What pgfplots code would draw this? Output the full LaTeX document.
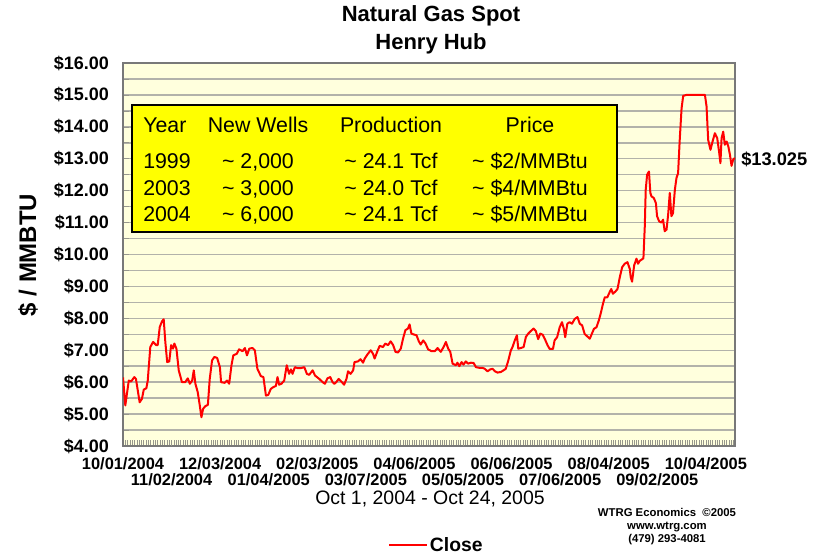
\documentclass[border=0pt]{standalone}
\usepackage{pgfplots}
\pgfplotsset{compat=1.18}
\usepackage{fontspec}
\setmainfont{Liberation Sans}
\definecolor{plotbg}{RGB}{255,255,221}
\definecolor{gridc}{RGB}{178,178,170}
\definecolor{boxy}{RGB}{255,255,0}
\definecolor{framec}{RGB}{120,120,120}
\definecolor{tickc}{RGB}{150,150,140}

\pgfplotstableread{
x y
0.0 6.15
1.0 5.27
2.5 6.05
3.5 6.02
4.9 6.16
5.6 6.10
7.2 5.37
8.2 5.48
9.0 5.77
10.1 5.81
10.7 6.05
11.8 7.10
13.0 7.26
14.4 7.16
15.0 7.16
15.9 7.73
16.9 7.91
17.6 7.97
18.3 7.26
19.1 6.63
20.0 6.65
20.8 7.16
21.6 7.05
22.2 7.21
23.1 7.05
24.1 6.37
25.5 6.00
26.9 6.00
28.0 6.12
28.9 5.95
29.9 6.05
30.6 6.37
31.3 5.95
32.3 5.69
33.2 5.27
33.9 4.90
34.6 5.16
35.6 5.25
36.7 5.29
37.5 6.10
38.5 6.68
39.5 6.79
40.7 6.76
41.9 6.47
42.4 6.00
43.9 5.98
45.0 6.05
45.9 5.95
46.9 6.53
47.7 6.84
49.2 6.89
50.2 7.03
51.7 6.97
52.7 7.07
53.6 6.84
54.6 7.05
56.0 7.07
57.0 7.00
58.1 6.42
59.6 6.19
60.7 6.16
61.8 5.58
62.8 5.60
63.9 5.79
65.1 5.85
66.1 5.88
66.8 6.16
67.5 5.92
68.5 5.95
69.7 6.05
70.8 6.53
71.8 6.26
72.6 6.40
73.3 6.26
74.3 6.47
75.5 6.44
76.9 6.44
78.4 6.47
79.5 6.26
80.5 6.23
82.0 6.37
83.0 6.21
84.9 6.10
86.3 6.00
87.3 5.95
88.4 6.12
89.6 6.16
90.6 6.00
91.4 5.95
92.2 6.00
93.2 6.10
94.4 6.02
95.6 5.92
96.6 6.10
97.3 6.34
98.4 6.26
99.5 6.37
100.1 6.63
101.6 6.65
102.7 6.72
103.8 6.61
104.5 6.74
105.6 6.86
107.1 7.00
108.1 6.89
108.8 6.74
110.0 6.97
111.0 7.14
112.4 7.10
113.4 7.21
114.6 7.16
115.7 7.28
116.8 7.16
117.8 6.95
118.9 6.93
120.1 7.05
121.1 7.37
122.1 7.63
123.2 7.68
123.9 7.81
124.7 7.52
125.9 7.49
126.9 7.47
127.9 7.28
128.7 7.18
129.8 7.31
130.8 7.21
131.9 7.03
133.4 6.97
134.8 6.97
136.0 7.07
137.4 6.95
138.6 7.10
139.6 7.26
140.6 7.05
141.5 6.95
142.5 6.58
143.9 6.53
144.6 6.61
145.4 6.50
146.4 6.63
147.2 6.55
148.2 6.65
149.2 6.58
150.4 6.61
151.6 6.60
152.6 6.47
154.0 6.45
155.4 6.45
156.4 6.42
157.6 6.34
158.8 6.40
159.8 6.42
160.8 6.34
161.9 6.30
163.4 6.32
164.5 6.37
165.5 6.42
166.6 6.68
167.7 7.00
168.4 7.10
169.4 7.31
170.3 7.47
170.9 7.05
172.0 7.07
173.2 7.10
174.2 7.42
175.2 7.52
176.3 7.60
177.5 7.68
178.5 7.60
179.5 7.35
180.4 7.52
181.4 7.49
182.4 7.35
183.6 7.15
184.5 7.04
185.9 7.04
186.6 7.31
187.7 7.41
188.8 7.72
189.8 7.88
190.6 7.67
191.2 7.41
192.1 7.83
193.1 7.88
194.1 7.83
195.3 7.98
196.5 8.04
197.5 7.83
198.5 7.78
199.6 7.51
201.1 7.41
201.8 7.36
202.5 7.48
203.6 7.67
204.7 7.72
205.7 7.93
206.5 8.14
207.5 8.45
208.3 8.66
209.4 8.66
210.4 8.82
211.1 8.92
211.8 8.77
212.9 8.84
213.8 8.92
214.8 9.29
215.8 9.60
216.9 9.71
218.1 9.76
219.1 9.55
219.5 9.29
220.1 9.15
221.0 9.66
222.0 9.87
222.7 9.71
223.4 9.80
225.0 9.88
225.6 10.89
226.0 12.03
226.6 12.50
227.4 12.60
228.0 11.93
228.5 11.82
229.5 11.77
230.4 11.61
230.9 11.20
231.8 11.04
232.8 11.00
233.5 11.09
234.2 10.73
235.0 10.78
235.7 11.25
236.4 11.93
237.1 11.20
237.8 11.30
238.6 12.03
239.3 12.40
240.0 12.55
240.7 13.59
241.5 14.58
242.2 14.97
243.6 15.00
251.6 15.00
252.3 14.64
253.0 13.59
254.0 13.28
254.9 13.54
255.9 13.80
256.9 13.65
257.7 13.23
258.3 12.86
258.8 13.65
259.5 13.85
260.2 13.44
261.0 13.54
261.7 13.39
262.4 13.13
263.1 12.78
263.8 12.97
264.5 13.025
}\closedata

\begin{document}
\begin{tikzpicture}[x=0.75pt,y=0.75pt]
\useasboundingbox (0,0) rectangle (818,554);
\begin{axis}[
  at={(92.25pt,81pt)}, anchor=south west,
  width=459pt, height=287.25pt, scale only axis,
  xmin=0, xmax=264.6, ymin=4, ymax=16,
  axis background/.style={fill=plotbg},
  axis line style={draw=framec, line width=1.2pt},
  ytick={4,5,...,16},
  yticklabels={\$4.00,\$5.00,\$6.00,\$7.00,\$8.00,\$9.00,\$10.00,\$11.00,\$12.00,\$13.00,\$14.00,\$15.00,\$16.00},
  minor ytick={4.5,5.5,...,15.5},
  ymajorgrids, yminorgrids,
  major grid style={draw=gridc, line width=1.1pt},
  minor grid style={draw=gridc, line width=1.1pt},
  xtick={0,42,84,126,168,210,252},
  xticklabels={10/01/2004,12/03/2004,02/03/2005,04/06/2005,06/06/2005,08/04/2005,10/04/2005},
  extra x ticks={21,63,105,147,189,231},
  extra x tick labels={11/02/2004,01/04/2005,03/07/2005,05/05/2005,07/06/2005,09/02/2005},
  extra x tick style={tick label style={yshift=-12pt}},
  minor xtick={0,1,...,264},
  tick align=inside, tick pos=left,
  major tick length=4.5pt, minor tick length=4.5pt,
  tick style={draw=tickc, line width=0.5pt},
  xticklabel style={font=\bfseries\fontsize{12.3}{13}\selectfont, yshift=-5pt},
  yticklabel style={font=\bfseries\fontsize{13.5}{14}\selectfont, xshift=-7pt},
  legend style={at={(0.513,-0.2585)}, anchor=center, draw=none, fill=none,
    font=\bfseries\fontsize{14.5}{16}\selectfont},
  legend image code/.code={\draw[#1, line width=1pt] (0pt,0pt) -- (28pt,0pt);},
]
\addplot[red, line width=1.5pt, line join=round] table[x=x,y=y] {\closedata};
\addlegendentry{Close}
\end{axis}

% titles
\node[anchor=base, font=\bfseries\fontsize{16.5}{18}\selectfont] at (431,532) {Natural Gas Spot};
\node[anchor=base, font=\bfseries\fontsize{16.5}{18}\selectfont] at (431,504) {Henry Hub};
\node[rotate=90, font=\bfseries\fontsize{18}{20}\selectfont] at (28,299) {\$ / MMBTU};
\node[anchor=west, font=\bfseries\fontsize{13.7}{15}\selectfont, inner sep=0pt] at (741,395) {\$13.025};
\node[font=\fontsize{14.6}{16}\selectfont] at (430,55) {Oct 1, 2004 - Oct 24, 2005};
\node[font=\bfseries\fontsize{8.5}{9}\selectfont] at (667,42) {WTRG Economics \ \textcopyright2005};
\node[font=\bfseries\fontsize{8.5}{9}\selectfont] at (667,27) {www.wtrg.com};
\node[font=\bfseries\fontsize{8.5}{9}\selectfont] at (667,14) {(479) 293-4081};

% info box
\draw[fill=boxy, draw=black, line width=1.8pt] (132,449) rectangle (617,322);
\begin{scope}[every node/.style={font=\fontsize{16}{18}\selectfont, inner sep=0pt}]
\node[anchor=base west] at (143,421.4) {Year};
\node[anchor=base] at (258,421.4) {New Wells};
\node[anchor=base] at (391,421.4) {Production};
\node[anchor=base] at (530,421.4) {Price};
\node[anchor=base west] at (143,385) {1999};
\node[anchor=base] at (258,385) {\textasciitilde{} 2,000};
\node[anchor=base] at (391,385) {\textasciitilde{} 24.1 Tcf};
\node[anchor=base] at (530,385) {\textasciitilde{} \$2/MMBtu};
\node[anchor=base west] at (143,358.4) {2003};
\node[anchor=base] at (258,358.4) {\textasciitilde{} 3,000};
\node[anchor=base] at (391,358.4) {\textasciitilde{} 24.0 Tcf};
\node[anchor=base] at (530,358.4) {\textasciitilde{} \$4/MMBtu};
\node[anchor=base west] at (143,332.4) {2004};
\node[anchor=base] at (258,332.4) {\textasciitilde{} 6,000};
\node[anchor=base] at (391,332.4) {\textasciitilde{} 24.1 Tcf};
\node[anchor=base] at (530,332.4) {\textasciitilde{} \$5/MMBtu};
\end{scope}
\end{tikzpicture}
\end{document}
